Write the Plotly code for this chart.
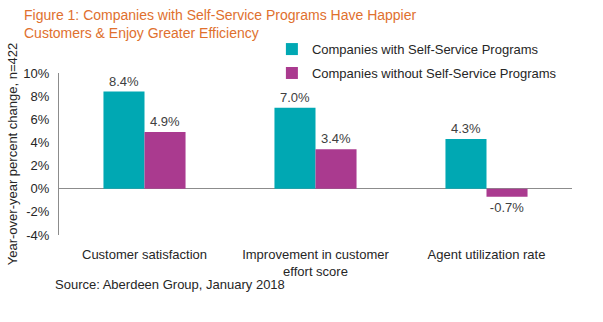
import plotly.graph_objects as go

categories = ["Customer satisfaction", "Improvement in customer<br>effort score", "Agent utilization rate"]
with_ssp = [8.4, 7.0, 4.3]
without_ssp = [4.9, 3.4, -0.7]
series_names = ["Companies with Self-Service Programs", "Companies without Self-Service Programs"]
tick_vals = [-4, -2, 0, 2, 4, 6, 8, 10]
tick_text = [f"{v}%" for v in tick_vals]

FONT = "Liberation Sans, Arial, sans-serif"
TEAL = "#00A8B3"
MAGENTA = "#AA3A8F"

fig = go.Figure()
for i, (name, vals, col) in enumerate([(series_names[0], with_ssp, TEAL), (series_names[1], without_ssp, MAGENTA)]):
    fig.add_trace(go.Bar(
        x=categories, y=vals, name=name, marker_color=col, marker_line_width=0,
        legendgroup=f"g{i}",
        text=[f"{v:.1f}%" for v in vals], textposition="outside",
        textfont=dict(size=13, color="#404040", family=FONT), cliponaxis=False,
    ))

fig.update_layout(
    width=603, height=322,
    margin=dict(l=59, r=31, t=73, b=87),
    paper_bgcolor="white", plot_bgcolor="white",
    barmode="group", bargap=0.52, bargroupgap=0,
    font=dict(family=FONT, size=13, color="#262626"),
    showlegend=True,
    legend=dict(x=0.415, y=1.24, xanchor="left", yanchor="top",
                font=dict(size=13, color="#262626", family=FONT),
                bgcolor="rgba(0,0,0,0)", tracegroupgap=4, itemwidth=30),
    xaxis=dict(showline=False, ticks="", ticklabelstandoff=10, automargin=False,
               tickfont=dict(size=13, color="#262626")),
    yaxis=dict(range=[-4, 10], tickvals=tick_vals, ticktext=tick_text, showgrid=False,
               showline=True, linecolor="#8c8c8c", linewidth=1, ticks="", ticklabelstandoff=6,
               automargin=False,
               zeroline=True, zerolinecolor="#8c8c8c", zerolinewidth=1,
               tickfont=dict(size=13, color="#262626"),
               title=dict(text="Year-over-year percent change, n=422", font=dict(size=13, color="#262626"), standoff=2)),
    annotations=[
        dict(text="Figure 1: Companies with Self-Service Programs Have Happier<br>Customers &amp; Enjoy Greater Efficiency",
             xref="paper", yref="paper", x=-0.072, y=1.418, xanchor="left", yanchor="top",
             align="left", showarrow=False, font=dict(size=14, color="#E0702E", family=FONT)),
        dict(text="Source: Aberdeen Group, January 2018", xref="paper", yref="paper",
             x=-0.012, y=-0.308, xanchor="left", yanchor="middle", showarrow=False,
             font=dict(size=13, color="#262626", family=FONT)),
    ],
)

fig.write_html("out.html")
